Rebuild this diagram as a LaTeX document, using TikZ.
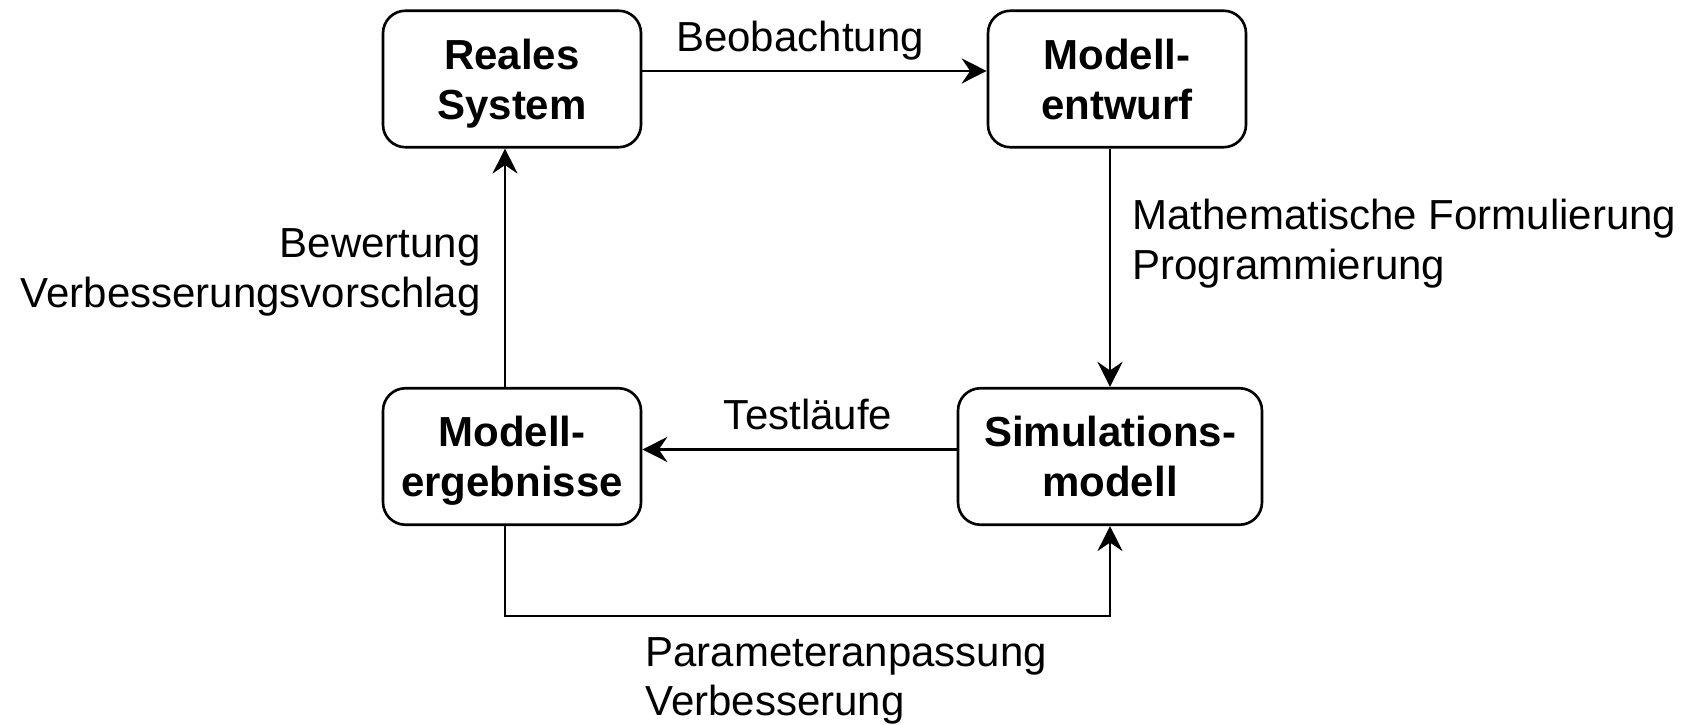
\documentclass[tikz,border=0pt]{standalone}
\usepackage{fontspec}
\setmainfont{Liberation Sans}
\usetikzlibrary{arrows.meta,positioning,calc}

\begin{document}
\begin{tikzpicture}[
    font=\fontsize{23.9}{28.45}\selectfont,
    block/.style={rectangle, draw, line width=1.5pt, rounded corners=0.45cm, minimum width=5.16cm, minimum height=2.73cm, align=center, text depth=0pt, font=\fontsize{23.9}{28.45}\selectfont\bfseries},
    wblock/.style={block, minimum width=6.08cm},
    lbl/.style={inner sep=0pt},
    arr/.style={-{Stealth[length=0.5cm, width=0.5cm, inset=0.17cm]}, line width=1.5pt}
]
\useasboundingbox (0,0) rectangle (33.8,14.5);

% Blocks
\node[block] (rs) at (10.24, 12.92) {Reales\\System};
\node[block] (me) at (22.34, 12.92) {Modell-\\entwurf};
\node[block] (mg) at (10.24, 5.37) {Modell-\\ergebnisse};
\node[wblock] (sm) at (22.20, 5.37) {Simulations-\\modell};

% Connectors
\draw[arr] ([yshift=0.16cm]rs.east) -- ([yshift=0.16cm]me.west);
\draw[arr] (me.south -| sm.north) -- (sm.north);
\draw[arr] ([yshift=0.14cm]sm.west) -- ([yshift=0.14cm]mg.east);
\draw[arr] ([xshift=-0.14cm]mg.north) -- ([xshift=-0.14cm]rs.south);
\draw[arr] ([xshift=-0.14cm]mg.south) -- ++(0,-1.8) -| (sm.south);

% Labels (base = last line)
\node[lbl, anchor=base] (obs) at (16.0, 13.46) {Beobachtung};
\node[lbl, anchor=base west, align=left] (math) at (22.64, 8.9) {Mathematische Formulierung\\Programmierung};
\node[lbl, anchor=base] (test) at (16.16, 5.9) {Testläufe};
\node[lbl, anchor=base east, align=right] (eval) at (9.62, 8.34) {Bewertung\\Verbesserungsvorschlag};
\node[lbl, anchor=base west, align=left] (param) at (12.9, 0.18) {Parameteranpassung\\Verbesserung};
\end{tikzpicture}
\end{document}
